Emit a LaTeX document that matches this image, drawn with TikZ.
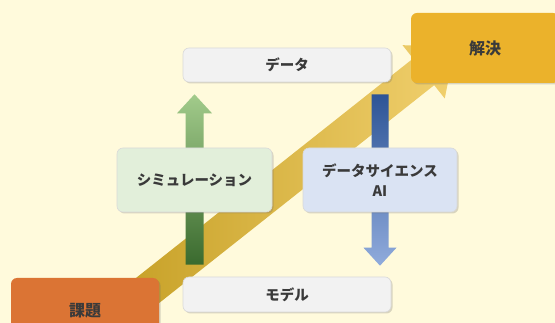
\documentclass[tikz,border=0pt]{standalone}
\usepackage{fontspec}
\newfontfamily\jp{Noto Sans CJK JP}
\usetikzlibrary{calc,shadows}
\definecolor{bgyellow}{HTML}{FFFADC}
\definecolor{kadaiorange}{HTML}{DB7434}
\definecolor{kaigold}{HTML}{EBB22B}
\definecolor{golddark}{HTML}{C6A026}
\definecolor{goldlight}{HTML}{F1D06E}
\definecolor{greenlight}{HTML}{A2CB8B}
\definecolor{greendark}{HTML}{3A6A2E}
\definecolor{bluedark}{HTML}{2D5496}
\definecolor{bluelight}{HTML}{90ABDC}
\definecolor{boxgray}{HTML}{F2F2F2}
\definecolor{boxgreen}{HTML}{E2EFDA}
\definecolor{boxblue}{HTML}{DAE3F3}
\definecolor{textgray}{HTML}{3A3A3A}
\begin{document}
\begin{tikzpicture}[x=1pt,y=-1pt,
  box/.style={rectangle,rounded corners=6pt,draw=black!15,line width=0.6pt,inner sep=0pt,
    font=\jp\bfseries\fontsize{14.5}{20}\selectfont,text=textgray,align=center,
    drop shadow={shadow xshift=1.5pt,shadow yshift=-1.5pt,opacity=0.25,fill=black!60}},
  main box/.style={box,draw=none,font=\jp\bfseries\fontsize{16}{20}\selectfont}]

  \fill[bgyellow] (0,0) rectangle (555,323);
  \useasboundingbox (0,0) rectangle (555,323);

  % big arrow from problem to solution
  \coordinate (a) at (128,306);
  \coordinate (b) at (455,47);
  \coordinate (m) at ($(b)!40pt!(a)$);
  \shade[left color=golddark,right color=goldlight]
    ($(a)!17pt!90:(b)$) -- ($(m)!17pt!90:(b)$) -- ($(m)!34pt!90:(b)$) -- (b)
    -- ($(m)!34pt!-90:(b)$) -- ($(m)!17pt!-90:(b)$) -- ($(a)!17pt!-90:(b)$) -- cycle;

  \node[box,fill=boxgray,minimum width=208pt,minimum height=34pt] (data) at (287,65) {データ};
  \node[box,fill=boxgray,minimum width=208pt,minimum height=35pt] (model) at (287,294.5) {モデル};

  % simulation: model -> data
  \coordinate (g1) at ($(194.5,0 |- model.north)+(0,-12)$);
  \coordinate (g2) at ($(194.5,0 |- data.south)+(0,12)$);
  \shade[top color=greenlight,bottom color=greendark]
    ($(g1)+(-9,0)$) -- ($(g2)+(-9,19)$) -- ($(g2)+(-17.5,19)$) -- (g2)
    -- ($(g2)+(17.5,19)$) -- ($(g2)+(9,19)$) -- ($(g1)+(9,0)$) -- cycle;

  % data science: data -> model
  \coordinate (b1) at ($(380,0 |- data.south)+(0,12)$);
  \coordinate (b2) at ($(380,0 |- model.north)+(0,-11)$);
  \shade[top color=bluedark,bottom color=bluelight]
    ($(b1)+(-8.5,0)$) -- ($(b2)+(-8.5,-18)$) -- ($(b2)+(-16.5,-18)$) -- (b2)
    -- ($(b2)+(16.5,-18)$) -- ($(b2)+(8.5,-18)$) -- ($(b1)+(8.5,0)$) -- cycle;

  \node[box,fill=boxgreen,minimum width=155pt,minimum height=64pt] (sim) at (194.5,180) {シミュレーション};
  \node[box,fill=boxblue,minimum width=154pt,minimum height=64pt] (ds) at (380,180) {データサイエンス\\AI};

  \node[main box,fill=kadaiorange,minimum width=148pt,minimum height=66pt] (kadai) at (85,311) {課題};
  \node[main box,fill=kaigold,minimum width=148pt,minimum height=70pt] (kaiketsu) at (485,48) {解決};
\end{tikzpicture}
\end{document}
